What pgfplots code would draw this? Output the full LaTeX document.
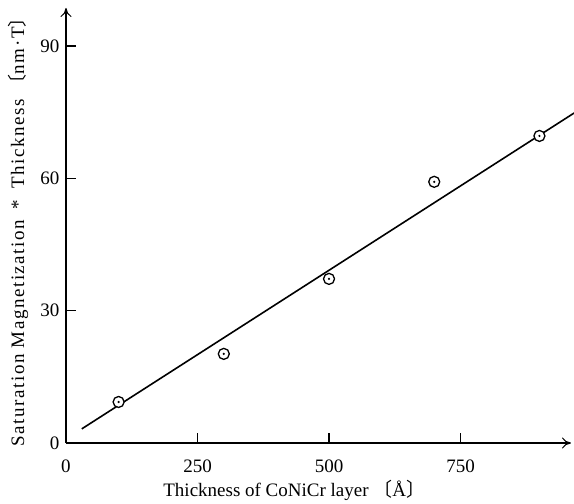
\documentclass[border=0pt]{standalone}
\usepackage{pgfplots}
\pgfplotsset{compat=1.18}
\usepackage{fontspec}
\setmainfont{Liberation Serif}
\newfontfamily\ylfont[LetterSpace=8]{Liberation Serif}
\newfontfamily\cjk{Noto Sans CJK JP}
\usetikzlibrary{arrows.meta}
\pgfdeclareplotmark{odot}{%
  \pgfpathcircle{\pgfpointorigin}{\pgfplotmarksize}%
  \pgfusepathqfillstroke
  \begin{pgfscope}%
  \pgfsetfillcolor{black}%
  \pgfpathcircle{\pgfpointorigin}{0.22\pgfplotmarksize}%
  \pgfusepathqfill
  \end{pgfscope}%
}
\begin{document}
\begin{tikzpicture}
\useasboundingbox (-66pt,-61pt) rectangle (508pt,443pt);
\begin{axis}[
  at={(0pt,0pt)}, anchor=origin,
  scale only axis,
  width=505pt, height=435pt,
  xmin=0, xmax=960, ymin=0, ymax=98.6,
  axis x line=bottom, axis y line=left,
  axis line style={line width=1.1pt, -{To[length=9pt,width=11pt,line width=1pt]}},
  xtick={0,250,500,750}, ytick={0,30,60,90},
  major tick length=0pt,
  font=\fontsize{19}{22}\selectfont,
  /pgf/number format/assume math mode=true,
  /pgf/number format/1000 sep={},
  xticklabel style={yshift=-13pt},
  yticklabel style={xshift=-3pt},
  clip=false,
  xlabel={Thickness of CoNiCr layer {\cjk 〔}Å{\cjk 〕}},
  ylabel={\ylfont Saturation Magnetization \hspace{0.25em}*\hspace{0.25em} Thickness {\cjk 〔}nm·T{\cjk 〕}},
  xlabel style={at={(axis description cs:0.452,-0.108)}, anchor=center},
  ylabel style={at={(axis description cs:-0.095,0.496)}, anchor=center, rotate=0},
]
\addplot[black, line width=1.6pt, no markers] coordinates {(30,3.2) (966,74.8)};
\addplot[only marks, mark=odot, mark size=5.5pt, mark options={fill=white, draw=black, line width=1.3pt}]
  coordinates {(100,9.3) (300,20.2) (500,37.2) (700,59.2) (900,69.6)};
\end{axis}
% tick marks (axis decoration), pointing inward
\draw[line width=1.6pt, black] (131.5pt,0pt) -- (131.5pt,10pt);
\draw[line width=1.6pt, black] (263pt,0pt) -- (263pt,10pt);
\draw[line width=1.6pt, black] (394.5pt,0pt) -- (394.5pt,10pt);
\draw[line width=1.6pt, black] (0pt,132.3pt) -- (10pt,132.3pt);
\draw[line width=1.6pt, black] (0pt,264.6pt) -- (10pt,264.6pt);
\draw[line width=1.6pt, black] (0pt,396.9pt) -- (10pt,396.9pt);
\end{tikzpicture}
\end{document}
